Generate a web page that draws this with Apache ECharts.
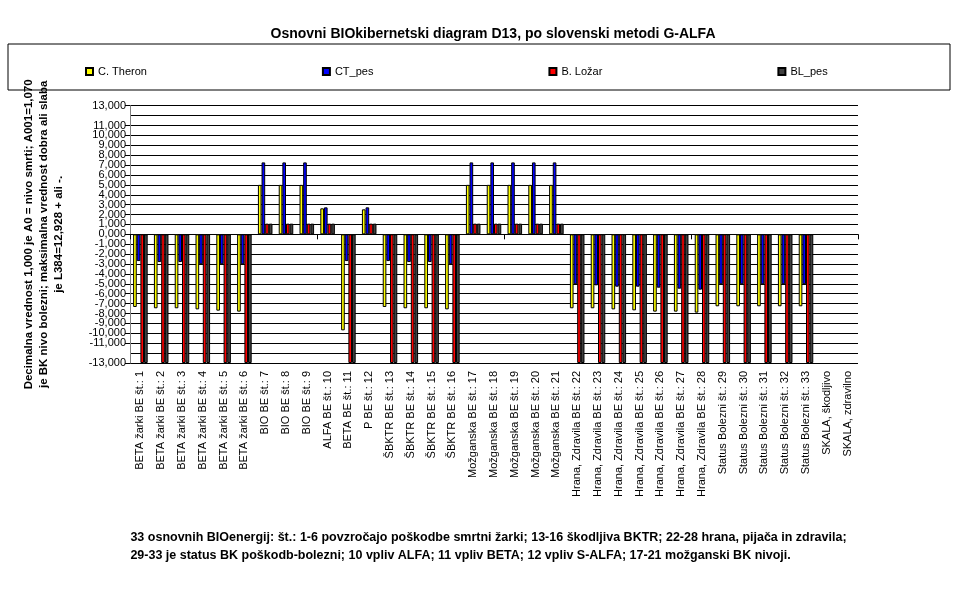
<!DOCTYPE html><html><head><meta charset="utf-8"><script src="https://cdn.jsdelivr.net/npm/echarts@6/dist/echarts.min.js"></script>
<style>body{margin:0;background:#fff}#c{width:977px;height:600px}</style></head><body><div id="c"></div><script>
const categories=["BETA žarki BE št.: 1","BETA žarki BE št.: 2","BETA žarki BE št.: 3","BETA žarki BE št.: 4","BETA žarki BE št.: 5","BETA žarki BE št.: 6","BIO BE št.: 7","BIO BE št.: 8","BIO BE št.: 9","ALFA BE št.: 10","BETA BE št.: 11","P BE št.: 12","ŠBKTR BE št.: 13","ŠBKTR BE št.: 14","ŠBKTR BE št.: 15","ŠBKTR BE št.: 16","Možganska BE št.: 17","Možganska BE št.: 18","Možganska BE št.: 19","Možganska BE št.: 20","Možganska BE št.: 21","Hrana, Zdravila BE št.: 22","Hrana, Zdravila BE št.: 23","Hrana, Zdravila BE št.: 24","Hrana, Zdravila BE št.: 25","Hrana, Zdravila BE št.: 26","Hrana, Zdravila BE št.: 27","Hrana, Zdravila BE št.: 28","Status Bolezni št.: 29","Status Bolezni št.: 30","Status Bolezni št.: 31","Status Bolezni št.: 32","Status Bolezni št.: 33","SKALA, škodljivo","SKALA, zdravilno"];
const theron=[-7.34,-7.47,-7.47,-7.58,-7.71,-7.81,5,5,5,2.63,-9.7,2.53,-7.34,-7.47,-7.47,-7.58,5,5,5,5,5,-7.47,-7.47,-7.58,-7.68,-7.81,-7.81,-7.91,-7.27,-7.27,-7.27,-7.27,-7.27,null,null];
const ctPes=[-2.7,-2.8,-2.8,-3.03,-3.03,-3.03,7.27,7.27,7.27,2.73,-2.7,2.73,-2.7,-2.8,-2.8,-3.03,7.27,7.27,7.27,7.27,7.27,-5.05,-5.15,-5.29,-5.29,-5.39,-5.49,-5.59,-5.05,-5.05,-5.05,-5.05,-5.05,null,null];
const lozar=[-13,-13,-13,-13,-13,-13,1.08,1.08,1.08,1.08,-13,1.08,-13,-13,-13,-13,1.08,1.08,1.08,1.08,1.08,-13,-13,-13,-13,-13,-13,-13,-13,-13,-13,-13,-13,null,null];
const blPes=lozar.slice();
const names=["C. Theron","CT_pes","B. Ložar","BL_pes"];
const colors=["#ffff00","#0000ff","#ff0000","#404040"];
const data=[theron,ctPes,lozar,blPes];
const ch=echarts.init(document.getElementById('c'));
const F='Arial, Liberation Sans, sans-serif';
ch.setOption({
animation:false,
title:{text:"Osnovni BIOkibernetski diagram D13, po slovenski metodi G-ALFA",left:488,top:22,textAlign:'center',textStyle:{fontFamily:F,fontSize:14,fontWeight:'bold',color:'#000'}},
legend:{data:names,top:61,left:80,itemGap:175,itemWidth:7,itemHeight:7,icon:'rect',textStyle:{fontFamily:F,fontSize:11,color:'#000'}},
graphic:[{type:'rect',shape:{x:8,y:44,width:942,height:46},style:{fill:'none',stroke:'#000',lineWidth:1}},
{type:'text',left:'center',top:529,style:{text:"33 osnovnih BIOenergij: št.: 1-6 povzročajo poškodbe smrtni žarki; 13-16 škodljiva BKTR; 22-28 hrana, pijača in zdravila;\n29-33 je status BK poškodb-bolezni; 10 vpliv ALFA; 11 vpliv BETA; 12 vpliv S-ALFA; 17-21 možganski BK nivoji.",font:'bold 12.5px '+F,fill:'#000',align:'center',lineHeight:18}}],
grid:{left:130,right:119,top:105.7,bottom:237,containLabel:false},
xAxis:[{type:'category',data:categories,axisLine:{onZero:true,lineStyle:{color:'#000'}},axisTick:{show:true,lineStyle:{color:'#000'}},axisLabel:{show:false}},
{type:'category',data:categories,position:'bottom',axisLine:{show:false},axisTick:{show:false},
axisLabel:{rotate:90,interval:0,fontFamily:F,fontSize:11,color:'#000',margin:8}}],
yAxis:{type:'value',min:-13,max:13,interval:1,name:"Decimalna vrednost 1,000 je A0 = nivo smrti; A001=1,070\nje BK nivo bolezni; maksimalna vrednost dobra ali slaba\nje L384=12,928 + ali -.",nameLocation:'middle',nameGap:64,nameTextStyle:{fontFamily:F,fontSize:11.5,fontWeight:'bold',color:'#000',lineHeight:15},
axisLine:{show:true,lineStyle:{color:'#808080'}},axisTick:{show:true,lineStyle:{color:'#000'}},splitLine:{lineStyle:{color:'#000'}},
axisLabel:{showMinLabel:true,showMaxLabel:true,fontFamily:F,fontSize:11,color:'#000',margin:4,formatter:v=>v.toFixed(3).replace('.',',')}},
series:data.map((d,i)=>({name:names[i],type:'bar',xAxisIndex:0,data:d,barGap:'0%',barCategoryGap:'30%',itemStyle:{color:colors[i],borderColor:'#000',borderWidth:1}}))
});
</script></body></html>
